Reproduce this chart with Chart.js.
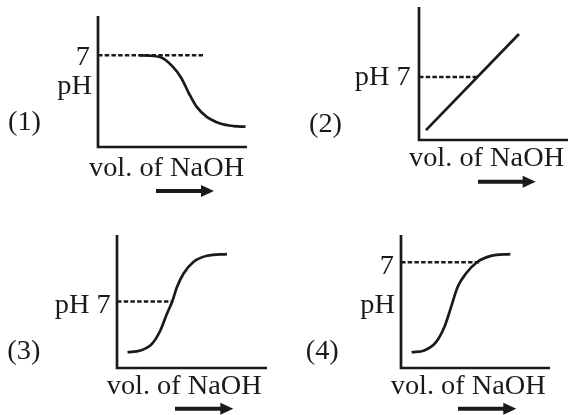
<!DOCTYPE html>
<html>
<head>
<meta charset="utf-8">
<script src="https://cdn.jsdelivr.net/npm/chart.js@4"></script>
<style>
	body { margin: 0; background: #fff; }
	.wrap { position: relative; width: 568px; height: 415px; overflow: hidden; }
	canvas { position: absolute; }
</style>
</head>
<body>
<div class="wrap">
	<canvas id="c1" width="284" height="207" style="left:0;top:0"></canvas>
	<canvas id="c2" width="284" height="207" style="left:284px;top:0"></canvas>
	<canvas id="c3" width="284" height="208" style="left:0;top:207px"></canvas>
	<canvas id="c4" width="284" height="208" style="left:284px;top:207px"></canvas>
</div>
<script>
const panelNames = ['(1)', '(2)', '(3)', '(4)']
const xLabel = 'vol. of NaOH'
const neutralPH = 7

// (1) pH falls from 7
const vol1 = [2.8, 4.2, 5.0, 5.6, 6.1, 6.6, 7.3, 8.2, 9.1, 9.9]
const ph1 = [7.0, 6.85, 6.15, 5.25, 4.1, 3.1, 2.3, 1.8, 1.6, 1.55]
// (2) straight line
const vol2 = [0.47, 6.71]
const ph2 = [1.1, 11.8]
// (3) s-curve through 7
const vol3 = [0.7, 1.55, 2.33, 2.89, 3.33, 3.67, 4.0, 4.44, 5.11, 6.0, 7.33]
const ph3 = [1.66, 1.84, 2.54, 3.95, 5.71, 6.95, 8.53, 9.94, 11.18, 11.81, 11.99]
// (4) s-curve levelling at 7
const vol4 = [0.71, 1.56, 2.35, 2.91, 3.36, 3.8, 4.36, 5.14, 6.04, 7.34]
const ph4 = [1.04, 1.16, 1.71, 2.71, 4.03, 5.36, 6.25, 7.03, 7.42, 7.54]

const dashEnd = [7.05, 3.9, 3.67, 5.37]
const phMax = [10, 14.8, 14, 8.8]
const phLabels = [['7', 'pH'], ['pH 7'], ['pH 7'], ['7', 'pH']]

const ink = '#1a1a1a'
const font = '27px "Liberation Serif", "Times New Roman", serif'
const stretch = 1.05

// canvas-local layout of each panel
const layouts = [
	{ pad: { left: 98, right: 37, top: 16, bottom: 60 }, ph: [[90, 65], [92, 94]], name: [8, 130], xl: [89, 176], arrow: [156, 214, 191] },
	{ pad: { left: 135, right: 0, top: 7, bottom: 67 }, ph: [[126.7, 85]], name: [25, 131.7], xl: [125, 166], arrow: [194, 251.7, 181.7] },
	{ pad: { left: 117, right: 17, top: 28, bottom: 47 }, ph: [[110.7, 106]], name: [7.3, 151.7], xl: [106.7, 187], arrow: [175, 233.3, 201.7] },
	{ pad: { left: 117, right: 18, top: 28, bottom: 47 }, ph: [[110, 66.7], [111, 106]], name: [21.7, 151.7], xl: [106.7, 187], arrow: [174, 232.3, 201.7] },
]

function text(ctx, str, x, y, align) {
	ctx.save()
	ctx.translate(x, y)
	ctx.scale(stretch, 1)
	ctx.font = font
	ctx.fillStyle = ink
	ctx.textAlign = align
	ctx.textBaseline = 'alphabetic'
	ctx.fillText(str, 0, 0)
	ctx.restore()
}

const sketchPlugin = {
	id: 'sketch',
	afterDraw(chart) {
		const { ctx, chartArea } = chart
		const i = chart.options.plugins.sketch.index
		const lay = layouts[i]
		ctx.save()
		// axes
		ctx.strokeStyle = ink
		ctx.lineWidth = 2.7
		ctx.lineCap = 'butt'
		ctx.beginPath()
		ctx.moveTo(chartArea.left, chartArea.top)
		ctx.lineTo(chartArea.left, chartArea.bottom)
		ctx.lineTo(chartArea.right, chartArea.bottom)
		ctx.stroke()
		// arrow under the axis label
		const [a0, a1, ay] = lay.arrow
		ctx.lineWidth = 4
		ctx.beginPath()
		ctx.moveTo(a0, ay)
		ctx.lineTo(a1 - 11, ay)
		ctx.stroke()
		ctx.fillStyle = ink
		ctx.beginPath()
		ctx.moveTo(a1 - 13, ay - 6)
		ctx.lineTo(a1, ay)
		ctx.lineTo(a1 - 13, ay + 6)
		ctx.closePath()
		ctx.fill()
		ctx.restore()

		phLabels[i].forEach((s, k) => text(ctx, s, lay.ph[k][0], lay.ph[k][1], 'right'))
		text(ctx, panelNames[i], lay.name[0], lay.name[1], 'left')
		text(ctx, xLabel, lay.xl[0], lay.xl[1], 'left')
	}
}

function createPanel(i, vols, phs) {
	const ctx = document.getElementById('c' + (i + 1)).getContext('2d')
	new Chart(ctx, {
		type: 'line',
		data: {
			datasets: [
				{
					data: vols.map((v, k) => ({ x: v, y: phs[k] })),
					borderColor: ink,
					borderWidth: 2.7,
					cubicInterpolationMode: 'monotone',
					pointRadius: 0,
					clip: false,
				},
				{
					data: [{ x: 0, y: neutralPH }, { x: dashEnd[i], y: neutralPH }],
					borderColor: ink,
					borderWidth: 2.5,
					borderDash: [4.5, 2.2],
					pointRadius: 0,
					clip: false,
				}
			]
		},
		options: {
			responsive: false,
			animation: false,
			events: [],
			layout: { padding: layouts[i].pad },
			plugins: {
				legend: { display: false },
				tooltip: { enabled: false },
				sketch: { index: i },
			},
			scales: {
				x: { type: 'linear', display: false, min: 0, max: 10 },
				y: { type: 'linear', display: false, min: 0, max: phMax[i] },
			}
		},
		plugins: [sketchPlugin]
	})
}

createPanel(0, vol1, ph1)
createPanel(1, vol2, ph2)
createPanel(2, vol3, ph3)
createPanel(3, vol4, ph4)
</script>
</body>
</html>
